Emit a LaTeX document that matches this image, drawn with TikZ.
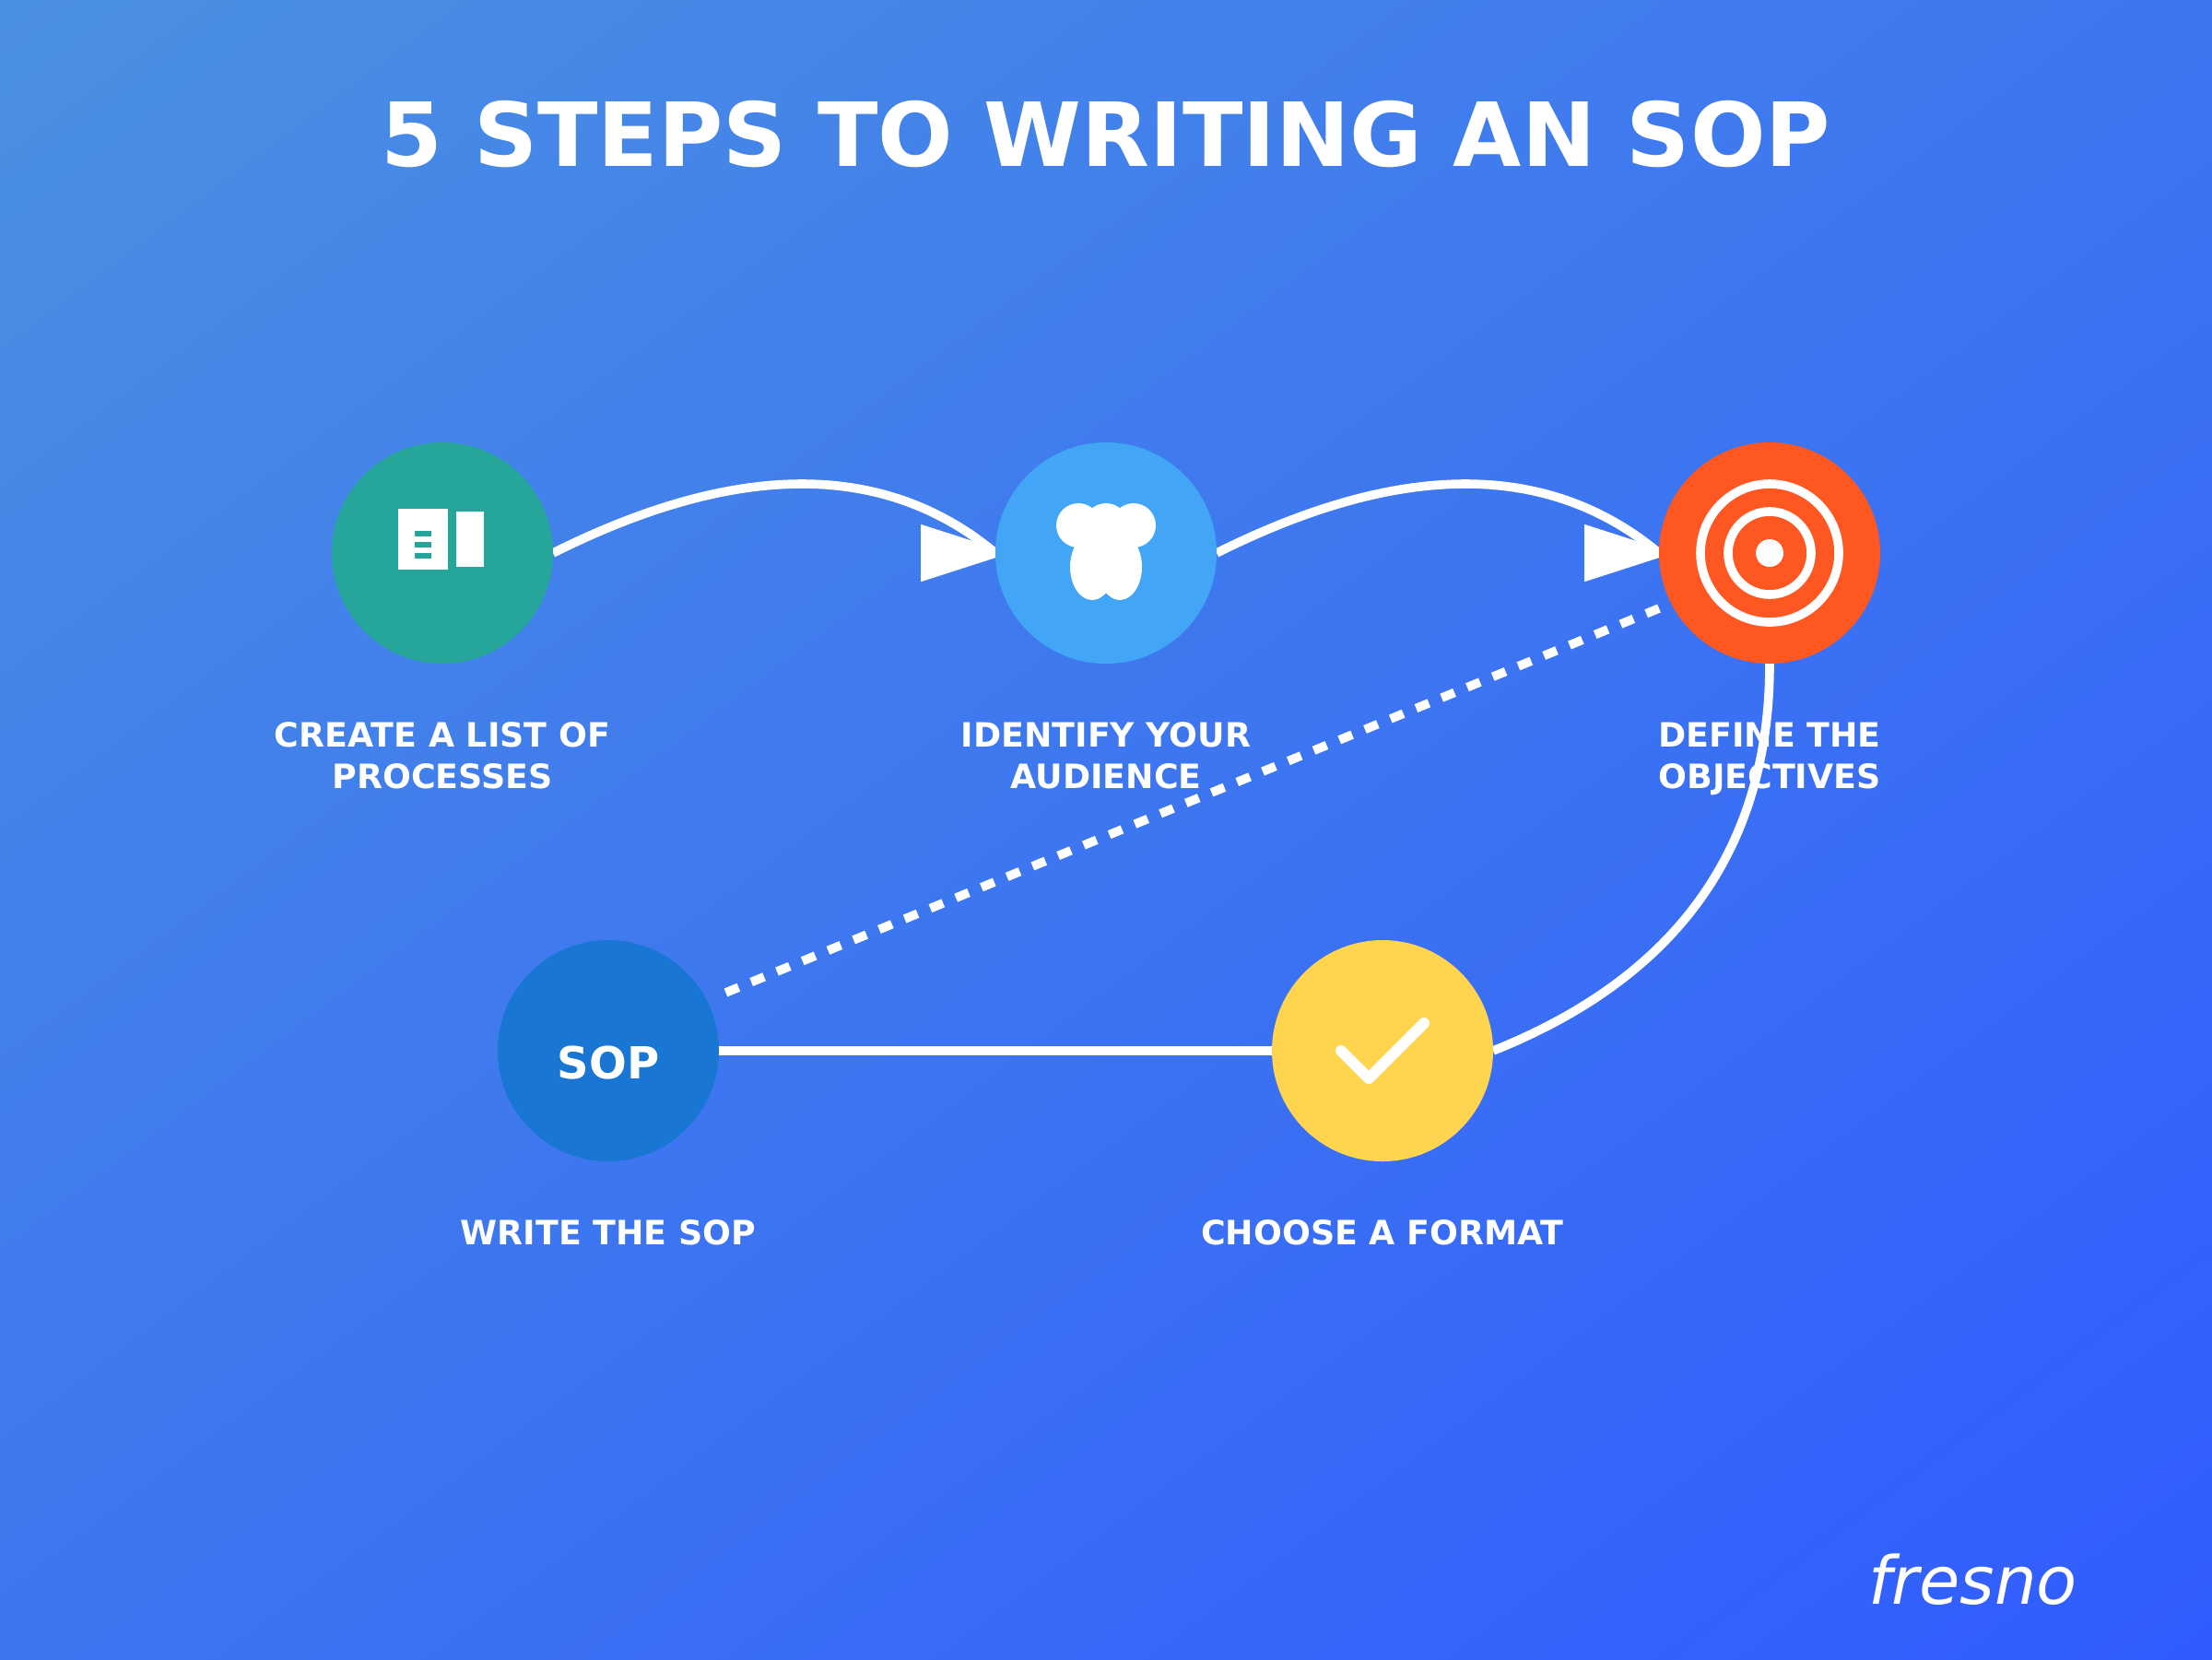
\documentclass[tikz,border=0pt]{standalone}
\usepackage{fontspec}
\setmainfont{DejaVu Sans}
\definecolor{stepteal}{HTML}{26A69A}
\definecolor{stepsky}{HTML}{42A5F5}
\definecolor{steporange}{HTML}{FF5722}
\definecolor{stepyellow}{HTML}{FFD54F}
\definecolor{stepblue}{HTML}{1976D2}
\pgfdeclarelayer{bglayer}
\pgfdeclarelayer{linklayer}
\pgfsetlayers{bglayer,linklayer,main}
\pgfdeclarefunctionalshading{bggrad}{\pgfpoint{0bp}{0bp}}{\pgfpoint{100bp}{100bp}}{}{
    sub 50 add 100 div
    dup -0.102 mul 0.290 add exch
    dup -0.205 mul 0.565 add exch
    0.114 mul 0.886 add
}

\begin{document}
\begin{tikzpicture}[
        x=1pt, y=-1pt,
        stepdot/.style={circle, minimum size=80pt, inner sep=0pt, outer sep=0pt, line width=0pt},
        steplabel/.style={text=white, align=center, anchor=base, inner sep=0pt,
            font=\bfseries\fontsize{12.12}{15}\selectfont},
        link/.style={draw=white, line width=3.2pt},
        ring/.style={draw=white, line width=3.2pt},
        tick/.style={draw=white, line width=4pt, line cap=round, line join=round},
    ]
    \useasboundingbox (0,0) rectangle (800,600);
    \begin{pgfonlayer}{bglayer}
        \shade[shading=bggrad] (0,0) rectangle (800,600);
    \end{pgfonlayer}

    \node[text=white, anchor=base, inner sep=0pt, font=\bfseries\fontsize{32}{36}\selectfont] (title) at (400,60) {5 STEPS TO WRITING AN SOP};

    % the five steps
    \node[stepdot, fill=stepteal] (s1) at (160,200) {};
    \node[stepdot, fill=stepsky] (s2) at (400,200) {};
    \node[stepdot, fill=steporange] (s3) at (640,200) {};
    \node[stepdot, fill=stepyellow] (s4) at (500,380) {};
    \node[stepdot, fill=stepblue] (s5) at (220,380) {};

    \node[steplabel] (l1) at (160,285) {CREATE A LIST OF\\PROCESSES};
    \node[steplabel] (l2) at (400,285) {IDENTIFY YOUR\\AUDIENCE};
    \node[steplabel] (l3) at (640,285) {DEFINE THE\\OBJECTIVES};
    \node[steplabel] (l4) at (500,450) {CHOOSE A FORMAT};
    \node[steplabel] (l5) at (220,450) {WRITE THE SOP};

    % connectors
    \coordinate (dotstart) at (600,220);
    \coordinate (dotend) at (260,360);
    \begin{pgfonlayer}{linklayer}
        \draw[link] (s1.east) .. controls (266.67,166.67) and (320,166.67) .. (s2.west);
        \fill[white] (s2.west) ++(5.3,0) -- ++(-32.3,-10.4) -- ++(0,20.8) -- cycle;
        \draw[link] (s2.east) .. controls (506.67,166.67) and (560,166.67) .. (s3.west);
        \fill[white] (s3.west) ++(5.3,0) -- ++(-32.3,-10.4) -- ++(0,20.8) -- cycle;
        \draw[link] (s3.south) .. controls (640,306.67) and (606.67,353.33) .. (s4.east);
        \draw[link] (s4.west) -- (s5.east);
        \draw[link, dash pattern=on 5pt off 5pt] (dotstart) -- (dotend);
    \end{pgfonlayer}

    % icon in step 1
    \fill[white] (144,184) rectangle (162,206);
    \fill[white] (165,185) rectangle (175,205);
    \foreach \y in {192,196,200}
        \fill[stepteal] (150,\y) rectangle (156,\y+2);

    % icon in step 2
    \fill[white] (390,190) circle (8) (400,190) circle (8) (410,190) circle (8);
    \fill[white] (395,205) ellipse (8 and 12) (405,205) ellipse (8 and 12);

    % icon in step 3
    \draw[ring] (s3) circle (25);
    \draw[ring] (s3) circle (15);
    \fill[white] (s3) circle (5);

    % icon in step 4
    \draw[tick] (485,380) -- (495,390) -- (515,370);

    \node[text=white, anchor=base, inner sep=0pt, font=\bfseries\fontsize{16}{20}\selectfont] (soptext) at (220,390) {SOP};

    \node[text=white, anchor=base east, inner sep=0pt, font=\itshape\fontsize{24}{28}\selectfont] (brand) at (751.5,580) {fresno};
\end{tikzpicture}
\end{document}
